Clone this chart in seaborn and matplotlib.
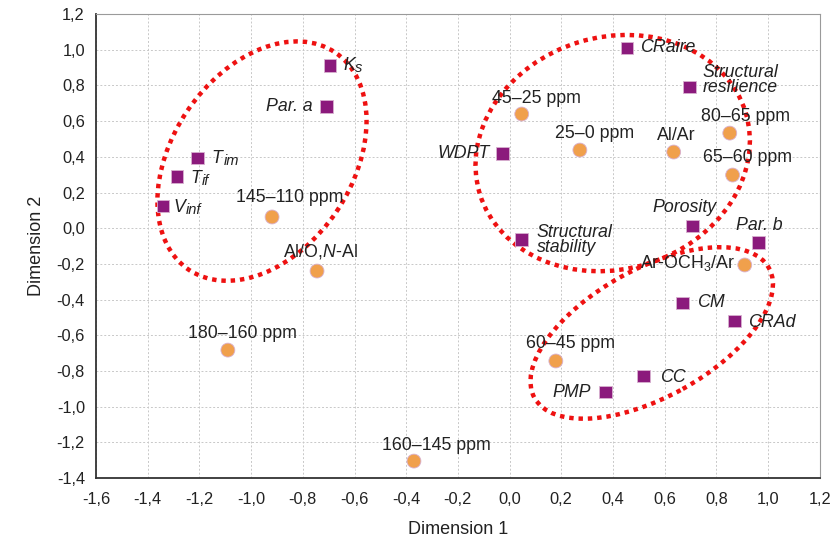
import numpy as np
import pandas as pd
import matplotlib
matplotlib.use("Agg")
import matplotlib.pyplot as plt
import seaborn as sns
from matplotlib.patches import Ellipse
from matplotlib.transforms import ScaledTranslation
from matplotlib.ticker import FuncFormatter

# ---------------- data ----------------
var_labels = ["K", "Par. a", "T", "T", "V", "CRaire",
              "Structural\nresilience", "WDPT", "Structural\nstability", "Porosity",
              "Par. b", "CM", "CRAd", "CC", "PMP"]
var_subs = ["s", "", "im", "if", "inf", "", "", "", "", "", "", "", "", "", ""]
var_x = [-0.695, -0.707, -1.206, -1.287, -1.341, 0.454, 0.697, -0.026, 0.047, 0.709,
         0.964, 0.670, 0.871, 0.519, 0.372]
var_y = [0.914, 0.684, 0.393, 0.292, 0.124, 1.010, 0.791, 0.421, -0.061, 0.012,
         -0.078, -0.419, -0.520, -0.828, -0.918]

ppm_labels = ["45–25 ppm", "25–0 ppm", "Al/Ar", "80–65 ppm", "65–60 ppm", "145–110 ppm",
              "Al/O,$N$-Al", "Ar-OCH$_3$/Ar", "60–45 ppm", "180–160 ppm", "160–145 ppm"]
ppm_x = [0.047, 0.272, 0.635, 0.852, 0.863, -0.919, -0.745, 0.910, 0.179, -1.090, -0.370]
ppm_y = [0.640, 0.438, 0.427, 0.533, 0.298, 0.063, -0.240, -0.206, -0.744, -0.683, -1.305]

x_ticks = np.round(np.arange(-1.6, 1.21, 0.2), 1)
y_ticks = np.round(np.arange(-1.4, 1.21, 0.2), 1)

# label placement (offset pixels, alignment)
var_offsets = [(13, 0, "left"), (-14, 0, "right"), (14, 0, "left"), (13, -2, "left"),
               (10, -1, "left"), (13, 0, "left"), (13, 7, "left"), (-13, 0, "right"),
               (15, -1, "left"), (-8, 19, "center"), (1, 17, "center"), (14, 0, "left"),
               (13, -1, "left"), (16, -2, "left"), (-15, 0, "right")]
ppm_offsets = [(15, 16, "center"), (15, 17, "center"), (3, 17, "center"), (16, 17, "center"),
               (15, 18, "center"), (18, 19, "center"), (3, 20, "center"), (-10, 2, "right"),
               (15, 17, "center"), (15, 17, "center"), (22, 16, "center")]

# ellipses: centre (data), semi-axes (pixels), angle (deg)
ell_cx = [-0.958, 0.399, 0.550]
ell_cy = [0.376, 0.421, -0.587]
ell_a = [131, 139, 134]
ell_b = [90, 116, 64]
ell_ang = [56, 17, 29]

df = pd.DataFrame({
    "x": var_x + ppm_x,
    "y": var_y + ppm_y,
    "kind": ["var"] * len(var_x) + ["ppm"] * len(ppm_x),
})

# ---------------- style ----------------
sns.set_theme(style="white")
plt.rcParams["font.family"] = ["Liberation Sans", "DejaVu Sans"]
plt.rcParams["mathtext.fontset"] = "custom"
plt.rcParams["mathtext.rm"] = "Liberation Sans"
plt.rcParams["mathtext.it"] = "Liberation Sans:italic"

LABEL_FS = 12.8
TXT = "#222222"

fig = plt.figure(figsize=(8.39, 5.42), dpi=100)
ax = fig.add_axes([0.1145, 0.118, 0.8625, 0.856])

ax.set_xlim(-1.6, 1.2)
ax.set_ylim(-1.4, 1.2)
ax.set_xticks(x_ticks)
ax.set_yticks(y_ticks)
fmt = FuncFormatter(lambda v, p: f"{v:.1f}".replace(".", ",").replace("-0,0", "0,0"))
ax.xaxis.set_major_formatter(fmt)
ax.yaxis.set_major_formatter(fmt)
ax.grid(True, color="#c8c8c8", linestyle=(0, (2, 2)), linewidth=0.7)
ax.set_axisbelow(True)

for s in ["left", "bottom"]:
    ax.spines[s].set_color("#333333")
    ax.spines[s].set_linewidth(1.3)
for s in ["top", "right"]:
    ax.spines[s].set_color("#9a9a9a")
    ax.spines[s].set_linewidth(0.8)

ax.tick_params(axis="both", direction="in", length=3, width=1.0, color="#333333",
               labelsize=11.8, labelcolor=TXT)
ax.tick_params(axis="x", pad=10)
ax.tick_params(axis="y", pad=8)

# ellipses
for cx, cy, a, b, ang in zip(ell_cx, ell_cy, ell_a, ell_b, ell_ang):
    e = Ellipse((0, 0), 2 * a, 2 * b, angle=ang, fill=False, edgecolor="#ee1111",
                linewidth=3.2, linestyle=(0, (1, 1.1)),
                transform=ScaledTranslation(cx, cy, ax.transData), zorder=1)
    ax.add_patch(e)

sns.scatterplot(data=df, x="x", y="y", hue="kind", style="kind", ax=ax,
                markers={"var": "s", "ppm": "o"},
                palette={"var": "#8b1a7c", "ppm": "#f0a04c"},
                size="kind", sizes={"var": 85, "ppm": 100},
                edgecolor="#d8b0d0", linewidth=0.6, legend=False, zorder=3)

renderer = fig.canvas.get_renderer()
for lab, sub, x, y, (dx, dy, ha) in zip(var_labels, var_subs, var_x, var_y, var_offsets):
    t = ax.annotate(lab, (x, y), xytext=(dx, dy), textcoords="offset pixels",
                    ha=ha, va="center", fontsize=LABEL_FS, fontstyle="italic",
                    color=TXT, linespacing=0.88, zorder=4)
    if sub:
        bb = t.get_window_extent(renderer)
        px, py = ax.transData.transform((x, y))
        ax.annotate(sub, (x, y), xytext=(bb.x1 - px + 0.5, dy - 3),
                    textcoords="offset pixels", ha="left", va="center",
                    fontsize=10.5, fontstyle="italic", color=TXT, zorder=4)
for lab, x, y, (dx, dy, ha) in zip(ppm_labels, ppm_x, ppm_y, ppm_offsets):
    ax.annotate(lab, (x, y), xytext=(dx, dy), textcoords="offset pixels",
                ha=ha, va="center", fontsize=LABEL_FS, color=TXT, zorder=4)

ax.set_xlabel("Dimension 1", fontsize=13, color=TXT, labelpad=10)
ax.set_ylabel("Dimension 2", fontsize=13, color=TXT, labelpad=8)

fig.savefig("out.png", dpi=100)
